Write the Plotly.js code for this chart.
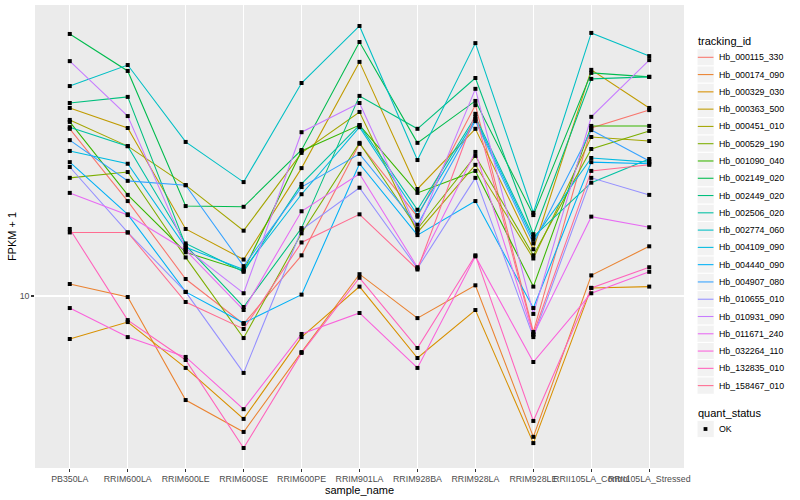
<!DOCTYPE html>
<html><head><meta charset="utf-8">
<script src="https://cdn.plot.ly/plotly-3.0.1.min.js"></script>
<style>html,body{margin:0;padding:0;background:#fff}#chart{width:800px;height:500px}</style>
</head><body><div id="chart"></div>
<script>
// ---- data (FPKM + 1) ----
const samples = ["PB350LA","RRIM600LA","RRIM600LE","RRIM600SE","RRIM600PE","RRIM901LA","RRIM928BA","RRIM928LA","RRIM928LE","RRII105LA_Control","RRII105LA_Stressed"];
const trackingIds = ["Hb_000115_330","Hb_000174_090","Hb_000329_030","Hb_000363_500","Hb_000451_010","Hb_000529_190","Hb_001090_040","Hb_002149_020","Hb_002449_020","Hb_002506_020","Hb_002774_060","Hb_004109_090","Hb_004440_090","Hb_004907_080","Hb_010655_010","Hb_010931_090","Hb_011671_240","Hb_032264_110","Hb_132835_010","Hb_158467_010"];
const seriesColors = ["#F8766D","#EA8331","#D89000","#C09B00","#A3A500","#7CAE00","#39B600","#00BB4E","#00BF7D","#00C1A3","#00BFC4","#00BAE0","#00B0F6","#35A2FF","#9590FF","#C77CFF","#E76BF3","#FA62DB","#FF62BC","#FF6C91"];

const Hb_000115_330 = [33.3, 19.8, 11.3, 8.18, 13.4, 29.9, 17.7, 39.5, 7.72, 33.5, 38.1];
const Hb_000174_090 = [10.9, 9.93, 4.73, 3.76, 6.68, 11.7, 8.53, 10.8, 3.63, 11.6, 14.3];
const Hb_000329_030 = [7.34, 8.29, 5.96, 4.13, 7.44, 10.7, 6.40, 9.04, 3.47, 10.6, 10.7];
const Hb_000363_500 = [38.7, 33.5, 16.2, 13.0, 25.1, 53.9, 21.6, 33.3, 14.0, 50.9, 38.7];
const Hb_000451_010 = [35.5, 29.4, 22.2, 16.0, 28.0, 37.6, 15.8, 25.7, 13.1, 31.4, 30.5];
const Hb_000529_190 = [23.4, 24.4, 13.2, 7.39, 15.7, 30.1, 16.2, 27.4, 13.4, 28.8, 32.8];
const Hb_001090_040 = [35.0, 20.7, 13.7, 12.0, 28.4, 34.2, 21.0, 24.6, 10.7, 34.0, 34.0];
const Hb_002149_020 = [65.9, 50.5, 19.1, 19.0, 28.6, 62.2, 30.1, 40.7, 17.9, 49.8, 48.4];
const Hb_002449_020 = [40.1, 41.9, 14.4, 9.24, 16.3, 42.2, 33.3, 48.0, 15.6, 47.7, 48.4];
const Hb_002506_020 = [33.7, 29.4, 14.6, 11.9, 22.4, 34.2, 18.6, 36.3, 15.3, 22.6, 26.8];
const Hb_002774_060 = [45.3, 52.7, 30.3, 22.7, 46.3, 69.8, 26.6, 61.7, 18.2, 66.4, 56.2];
const Hb_004109_090 = [28.4, 25.9, 14.2, 12.1, 20.8, 33.7, 17.9, 35.7, 15.0, 27.0, 26.2];
const Hb_004440_090 = [26.2, 18.0, 10.3, 8.23, 10.1, 25.9, 15.5, 19.8, 9.17, 26.2, 25.9];
const Hb_004907_080 = [30.7, 22.9, 22.2, 12.4, 21.9, 27.8, 16.7, 35.2, 14.6, 33.0, 26.4];
const Hb_010655_010 = [25.3, 15.8, 10.3, 5.75, 16.1, 21.8, 12.2, 23.4, 7.44, 23.4, 20.7];
const Hb_010931_090 = [54.2, 36.5, 14.1, 10.2, 32.5, 40.1, 16.1, 44.4, 8.79, 36.3, 54.6];
const Hb_011671_240 = [21.0, 17.9, 13.9, 9.04, 18.4, 24.1, 12.3, 28.2, 7.55, 17.7, 16.4];
const Hb_032264_110 = [9.17, 7.44, 6.45, 4.43, 7.61, 8.85, 5.96, 13.3, 6.22, 10.2, 11.9];
const Hb_132835_010 = [16.2, 8.41, 6.31, 3.35, 6.64, 11.4, 6.88, 13.4, 4.07, 10.6, 12.3];
const Hb_158467_010 = [15.8, 15.8, 9.58, 7.89, 14.7, 18.0, 12.1, 37.1, 7.61, 24.6, 25.7];

const seriesValues = [Hb_000115_330, Hb_000174_090, Hb_000329_030, Hb_000363_500, Hb_000451_010, Hb_000529_190, Hb_001090_040, Hb_002149_020, Hb_002449_020, Hb_002506_020, Hb_002774_060, Hb_004109_090, Hb_004440_090, Hb_004907_080, Hb_010655_010, Hb_010931_090, Hb_011671_240, Hb_032264_110, Hb_132835_010, Hb_158467_010];
const yTickVals = [10];
const yTickText = ["10"];
const statusLevels = ["OK"];

// ---- layout geometry (pixels) ----
const W = 800, H = 500;
const M = {l: 35, r: 116, t: 5, b: 32};
const PW = W - M.l - M.r, PH = H - M.t - M.b;
const px = v => (v - M.l) / PW;
const py = v => (H - M.b - v) / PH;
const FONT = "Liberation Sans, Arial, Helvetica, sans-serif";

const traces = [];
seriesValues.forEach((vals, i) => {
  traces.push({type: 'scatter', mode: 'lines', x: samples, y: vals, name: trackingIds[i],
    line: {color: seriesColors[i], width: 1.07}, showlegend: false, hoverinfo: 'skip'});
});
seriesValues.forEach((vals, i) => {
  traces.push({type: 'scatter', mode: 'markers', x: samples, y: vals, name: statusLevels[0],
    marker: {symbol: 'square', size: 4, color: '#000'}, showlegend: false, hoverinfo: 'skip'});
});

// ---- hand-made ggplot-style legend ----
const shapes = [], annotations = [];
const keyX0 = 697, keyW = 17.28, step = 17.28, firstC = 57.3;
annotations.push({xref: 'paper', yref: 'paper', x: px(696), y: py(40.7), xanchor: 'left', yanchor: 'middle',
  text: 'tracking_id', showarrow: false, font: {family: FONT, size: 11, color: '#000'}});
trackingIds.forEach((id, i) => {
  const cy = firstC + step * i;
  shapes.push({type: 'rect', xref: 'paper', yref: 'paper', x0: px(keyX0), x1: px(keyX0 + keyW),
    y0: py(cy - keyW / 2), y1: py(cy + keyW / 2), fillcolor: '#F2F2F2', line: {color: '#fff', width: 1}, layer: 'above'});
  shapes.push({type: 'line', xref: 'paper', yref: 'paper', x0: px(keyX0 + 0.8), x1: px(keyX0 + keyW - 0.8),
    y0: py(cy), y1: py(cy), line: {color: seriesColors[i], width: 1.07}, layer: 'above'});
  annotations.push({xref: 'paper', yref: 'paper', x: px(717), y: py(cy), xanchor: 'left', yanchor: 'middle',
    text: id, showarrow: false, font: {family: FONT, size: 8.8, color: '#000'}});
});
annotations.push({xref: 'paper', yref: 'paper', x: px(696), y: py(412.7), xanchor: 'left', yanchor: 'middle',
  text: 'quant_status', showarrow: false, font: {family: FONT, size: 11, color: '#000'}});
const okC = 429;
shapes.push({type: 'rect', xref: 'paper', yref: 'paper', x0: px(keyX0), x1: px(keyX0 + keyW),
  y0: py(okC - keyW / 2), y1: py(okC + keyW / 2), fillcolor: '#F2F2F2', line: {color: '#fff', width: 1}, layer: 'above'});
shapes.push({type: 'rect', xref: 'paper', yref: 'paper', x0: px(703.6), x1: px(707.4),
  y0: py(okC - 1.9), y1: py(okC + 1.9), fillcolor: '#000', line: {width: 0}, layer: 'above'});
annotations.push({xref: 'paper', yref: 'paper', x: px(717), y: py(okC), xanchor: 'left', yanchor: 'middle',
  text: statusLevels[0], showarrow: false, font: {family: FONT, size: 8.8, color: '#000'}});

const layout = {
  width: W, height: H, margin: M, paper_bgcolor: '#fff', plot_bgcolor: '#EBEBEB',
  font: {family: FONT, size: 8.8, color: '#4D4D4D'},
  xaxis: {type: 'category', categoryorder: 'array', categoryarray: samples, range: [-0.6, samples.length - 0.4],
    showgrid: true, gridcolor: '#fff', gridwidth: 1.07, zeroline: false, showline: false,
    ticks: 'outside', ticklen: 2.75, tickcolor: '#333333', tickwidth: 1.07, tickangle: 0,
    tickfont: {family: FONT, size: 8.8, color: '#4D4D4D'}, automargin: false,
    title: {text: 'sample_name', font: {family: FONT, size: 11, color: '#000'}, standoff: 0}},
  yaxis: {type: 'log', range: [0.4625, 1.9094], tickvals: yTickVals, ticktext: yTickText,
    showgrid: true, gridcolor: '#fff', gridwidth: 1.07, zeroline: false, showline: false,
    ticks: 'outside', ticklen: 2.75, tickcolor: '#333333', tickwidth: 1.07,
    tickfont: {family: FONT, size: 8.8, color: '#4D4D4D'}, automargin: false,
    title: {text: 'FPKM + 1', font: {family: FONT, size: 11, color: '#000'}, standoff: 0}},
  shapes: shapes, annotations: annotations, showlegend: false
};
Plotly.newPlot('chart', traces, layout, {displayModeBar: false, staticPlot: true});
</script></body></html>
